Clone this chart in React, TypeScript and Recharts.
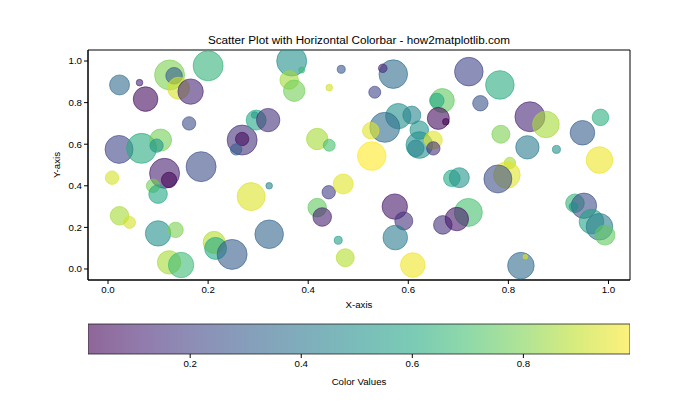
import React from "react";
import { ScatterChart, Scatter, XAxis, YAxis, BarChart, Bar, ReferenceArea } from "recharts";

const FONT = "Liberation Sans, Arial, sans-serif";

// point positions, marker sizes (matplotlib s, pt^2) and colour values
const xs = [
  0.023, 0.063, 0.075, 0.123, 0.132, 0.141, 0.165, 0.2, 0.162, 0.022,
  0.067, 0.105, 0.097, 0.268, 0.268, 0.256, 0.296, 0.293, 0.367, 0.387,
  0.362, 0.372, 0.466, 0.442, 0.57, 0.549, 0.533, 0.32, 0.668, 0.657,
  0.66, 0.675, 0.58, 0.607, 0.553, 0.525, 0.418, 0.442, 0.527, 0.622,
  0.622, 0.65, 0.65, 0.615, 0.721, 0.783, 0.744, 0.843, 0.875, 0.785,
  0.948, 0.984, 0.838, 0.896, 0.982, 0.803, 0.797, 0.113, 0.122, 0.186,
  0.008, 0.09, 0.1, 0.286, 0.322, 0.023, 0.043, 0.1, 0.135, 0.212,
  0.215, 0.248, 0.122, 0.146, 0.322, 0.441, 0.47, 0.418, 0.428, 0.46,
  0.474, 0.573, 0.591, 0.574, 0.609, 0.669, 0.687, 0.702, 0.779, 0.72,
  0.697, 0.825, 0.834, 0.933, 0.951, 0.93, 0.966, 0.982, 0.993,
];
const ys = [
  0.885, 0.896, 0.817, 0.933, 0.929, 0.869, 0.853, 0.977, 0.7, 0.575,
  0.58, 0.62, 0.593, 0.62, 0.625, 0.575, 0.716, 0.74, 1.0, 0.957,
  0.909, 0.857, 0.96, 0.872, 0.937, 0.965, 0.85, 0.716, 0.81, 0.81,
  0.724, 0.708, 0.735, 0.74, 0.681, 0.665, 0.625, 0.595, 0.543, 0.668,
  0.596, 0.62, 0.58, 0.58, 0.949, 0.885, 0.797, 0.732, 0.695, 0.648,
  0.655, 0.729, 0.585, 0.575, 0.524, 0.51, 0.452, 0.46, 0.428, 0.492,
  0.439, 0.4, 0.36, 0.348, 0.4, 0.256, 0.224, 0.171, 0.188, 0.128,
  0.099, 0.07, 0.032, 0.019, 0.167, 0.369, 0.409, 0.295, 0.25, 0.138,
  0.054, 0.3, 0.231, 0.151, 0.019, 0.212, 0.436, 0.439, 0.433, 0.272,
  0.24, 0.016, 0.059, 0.316, 0.304, 0.3, 0.228, 0.203, 0.163,
];
const sizes = [
  423, 46, 640, 952, 291, 512, 682, 952, 190, 829,
  952, 512, 190, 952, 190, 137, 423, 46, 952, 38,
  366, 484, 68, 46, 865, 78, 152, 579, 609, 225,
  512, 46, 682, 343, 952, 291, 484, 152, 865, 366,
  748, 343, 190, 291, 865, 865, 251, 952, 748, 343,
  640, 291, 579, 68, 748, 137, 748, 952, 251, 952,
  190, 190, 366, 829, 46, 366, 152, 682, 251, 512,
  512, 952, 579, 682, 865, 190, 423, 366, 366, 68,
  343, 682, 343, 640, 640, 366, 291, 423, 829, 829,
  579, 748, 22, 366, 682, 78, 640, 748, 423,
];
const colorValues = [
  0.35, 0.12, 0.05, 0.8, 0.3, 0.93, 0.12, 0.65, 0.25, 0.22,
  0.62, 0.78, 0.52, 0.15, 0.05, 0.3, 0.6, 0.55, 0.5, 0.68,
  0.85, 0.78, 0.28, 0.92, 0.36, 0.12, 0.22, 0.15, 0.75, 0.6,
  0.05, 0.016, 0.5, 0.45, 0.36, 0.95, 0.86, 0.7, 0.992, 0.52,
  0.5, 0.95, 0.15, 0.45, 0.22, 0.62, 0.26, 0.12, 0.86, 0.8,
  0.3, 0.63, 0.42, 0.5, 0.97, 0.86, 0.95, 0.1, 0.03, 0.25,
  0.93, 0.78, 0.6, 0.94, 0.45, 0.86, 0.93, 0.5, 0.8, 0.88,
  0.6, 0.3, 0.86, 0.68, 0.33, 0.2, 0.95, 0.75, 0.1, 0.55,
  0.88, 0.08, 0.15, 0.42, 0.97, 0.15, 0.6, 0.52, 0.25, 0.7,
  0.08, 0.35, 0.95, 0.65, 0.25, 0.5, 0.58, 0.42, 0.75,
];

const axisTicks = [0, 0.2, 0.4, 0.6, 0.8, 1.0];
const colorbarTicks = [0.2, 0.4, 0.6, 0.8];

const points = xs.map((x, i) => ({ x, y: ys[i], s: sizes[i], c: colorValues[i] }));
const cMin = Math.min(...colorValues);
const cMax = Math.max(...colorValues);
const colorbarData = [{ name: "cb", range: [cMin, cMax] }];

const VIRIDIS = [
  "#440154", "#482475", "#414487", "#355f8d", "#2a788e", "#21918c",
  "#22a884", "#44bf70", "#7ad151", "#bddf26", "#fde725",
];

const hexToRgb = (h: string) => [1, 3, 5].map((i) => parseInt(h.slice(i, i + 2), 16));

const viridis = (t: number) => {
  const v = Math.max(0, Math.min(1, t)) * (VIRIDIS.length - 1);
  const i = Math.min(Math.floor(v), VIRIDIS.length - 2);
  const f = v - i;
  const a = hexToRgb(VIRIDIS[i]);
  const b = hexToRgb(VIRIDIS[i + 1]);
  const rgb = a.map((ch, k) => Math.round(ch + (b[k] - ch) * f));
  return `rgb(${rgb[0]},${rgb[1]},${rgb[2]})`;
};

const norm = (c: number) => (c - cMin) / (cMax - cMin);

// s is in points^2, figure is rendered at 70 dpi
const radius = (s: number) => (Math.sqrt(s) / 2) * (70 / 72);

const renderBubble = (props: any) => {
  const { cx, cy, payload } = props;
  const col = viridis(norm(payload.c));
  return (
    <circle
      cx={cx}
      cy={cy}
      r={radius(payload.s)}
      fill={col}
      fillOpacity={0.6}
      stroke={col}
      strokeOpacity={0.6}
      strokeWidth={1}
    />
  );
};

const xDomain = [-0.04, 1.043];
const yDomain = [-0.053, 1.053];
const tickStyle = { fill: "#000", fontSize: 9.7, fontFamily: FONT };
const fmt = (v: number) => v.toFixed(1);

export default function App() {
  return (
    <div
      style={{
        position: "absolute",
        left: 0,
        top: 0,
        width: 700,
        height: 420,
        background: "#fff",
        fontFamily: FONT,
      }}
    >
      <div
        style={{
          position: "absolute",
          top: 32,
          left: 0,
          width: 718,
          textAlign: "center",
          fontSize: 11.7,
          lineHeight: "16px",
          color: "#000",
        }}
      >
        Scatter Plot with Horizontal Colorbar - how2matplotlib.com
      </div>

      <div style={{ position: "absolute", left: 0, top: 0 }}>
        <ScatterChart
          width={700}
          height={320}
          margin={{ top: 50, right: 70, bottom: 0, left: 0 }}
        >
          <XAxis
            dataKey="x"
            type="number"
            domain={xDomain}
            allowDataOverflow
            ticks={axisTicks}
            tickFormatter={fmt}
            tick={tickStyle}
            tickSize={4}
            stroke="#000"
            height={40}
            label={{
              value: "X-axis",
              position: "insideBottom",
              offset: 12,
              fill: "#000",
              fontSize: 9.7,
              fontFamily: FONT,
            }}
          />
          <YAxis
            dataKey="y"
            type="number"
            domain={yDomain}
            allowDataOverflow
            ticks={axisTicks}
            tickFormatter={fmt}
            tick={tickStyle}
            tickSize={4}
            stroke="#000"
            width={88}
            label={{
              value: "Y-axis",
              angle: -90,
              position: "insideLeft",
              offset: 57,
              fill: "#000",
              fontSize: 9.7,
              fontFamily: FONT,
              style: { textAnchor: "middle" },
            }}
          />
          <Scatter data={points} isAnimationActive={false} shape={renderBubble} />
          <ReferenceArea
            x1={xDomain[0]}
            x2={xDomain[1]}
            y1={yDomain[0]}
            y2={yDomain[1]}
            fill="none"
            stroke="#000"
            strokeWidth={1}
            ifOverflow="visible"
          />
        </ScatterChart>
      </div>

      <div style={{ position: "absolute", left: 0, top: 310 }}>
        <BarChart
          width={700}
          height={90}
          layout="vertical"
          data={colorbarData}
          barCategoryGap={0}
          margin={{ top: 14, right: 70, bottom: 0, left: 88 }}
        >
          <defs>
            <linearGradient id="viridisBar" x1="0" y1="0" x2="1" y2="0">
              {VIRIDIS.map((col, i) => (
                <stop
                  key={col}
                  offset={`${(i / (VIRIDIS.length - 1)) * 100}%`}
                  stopColor={col}
                  stopOpacity={0.6}
                />
              ))}
            </linearGradient>
          </defs>
          <XAxis
            type="number"
            domain={[cMin, cMax]}
            allowDataOverflow
            ticks={colorbarTicks}
            tickFormatter={fmt}
            tick={tickStyle}
            tickSize={4}
            stroke="#000"
            axisLine={false}
            height={46}
            label={{
              value: "Color Values",
              position: "insideBottom",
              offset: 15,
              fill: "#000",
              fontSize: 9.7,
              fontFamily: FONT,
            }}
          />
          <YAxis type="category" dataKey="name" hide />
          <Bar
            dataKey="range"
            fill="url(#viridisBar)"
            stroke="#222"
            strokeWidth={0.8}
            isAnimationActive={false}
          />
        </BarChart>
      </div>
    </div>
  );
}
